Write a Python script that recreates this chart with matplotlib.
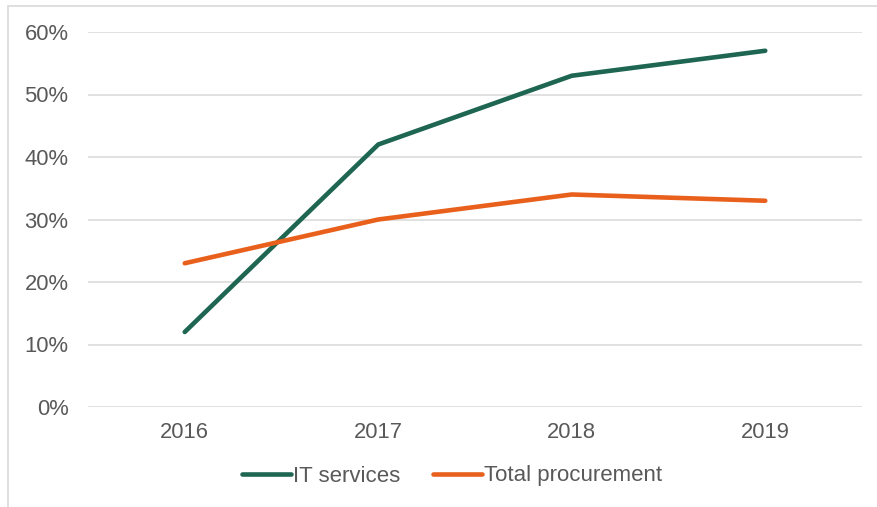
import matplotlib
matplotlib.use("Agg")
import matplotlib.pyplot as plt
from matplotlib.patches import Rectangle
from matplotlib.ticker import FuncFormatter

years = ["2016", "2017", "2018", "2019"]
it_services = [12, 42, 53, 57]
total_procurement = [23, 30, 34, 33]
series_names = ["IT services", "Total procurement"]
colors = ["#1E6652", "#E8601C"]

plt.rcParams["font.family"] = ["Liberation Sans", "DejaVu Sans"]

fig = plt.figure(figsize=(8.77, 5.07), dpi=100)
ax = fig.add_axes([88 / 877, 100 / 507, 774 / 877, 375 / 507])

x = [i + 0.5 for i in range(len(years))]
ax.plot(x, it_services, color=colors[0], lw=3.3, solid_capstyle="round",
        label=series_names[0], zorder=3)
ax.plot(x, total_procurement, color=colors[1], lw=3.3, solid_capstyle="round",
        label=series_names[1], zorder=3)

ax.set_xlim(0, 4)
ax.set_ylim(0, 60)
ax.set_yticks(range(0, 61, 10))
ax.yaxis.set_major_formatter(FuncFormatter(lambda v, p: f"{int(v)}%"))
ax.set_xticks(x)
ax.set_xticklabels(years)

ax.grid(axis="y", color="#D9D9D9", lw=1.1)
ax.set_axisbelow(True)
for s in ax.spines.values():
    s.set_visible(False)
ax.tick_params(axis="both", length=0, labelsize=15.8, labelcolor="#595959")
ax.tick_params(axis="y", pad=14)
ax.tick_params(axis="x", pad=11)

leg = fig.legend(loc="center", bbox_to_anchor=(452 / 877, 1 - 476 / 507),
                 ncol=2, frameon=False, fontsize=16, handlelength=2.2,
                 handletextpad=0.1, columnspacing=1.45)
for t in leg.get_texts():
    t.set_color("#595959")

fig.patches.append(Rectangle((8 / 877, -0.02), 1.0, 1 - 6 / 507 + 0.02,
                             transform=fig.transFigure, fill=False,
                             edgecolor="#D9D9D9", lw=1.2))

fig.savefig("out.png", dpi=100)
